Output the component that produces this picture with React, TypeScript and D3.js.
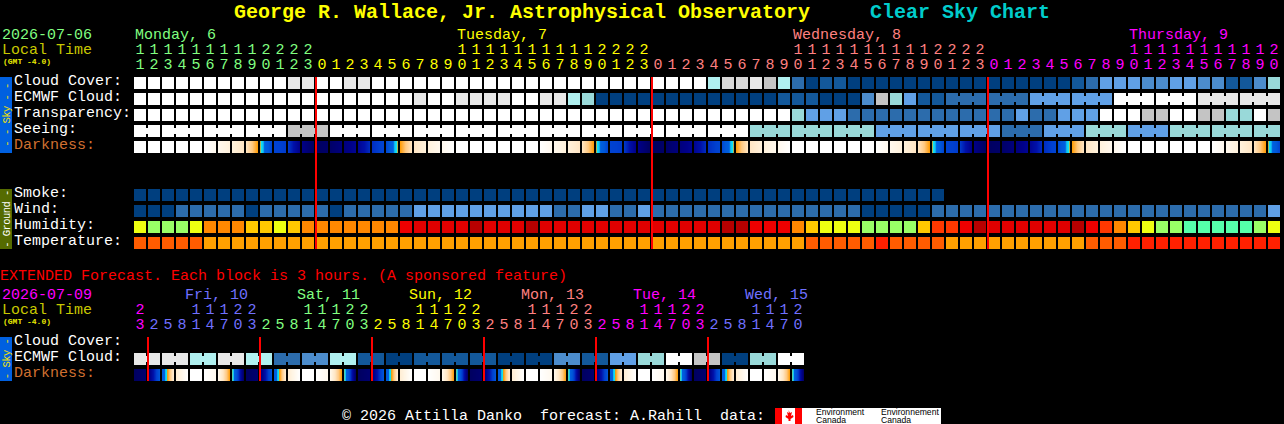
import React from "react";
import * as d3 from "d3";

const cloudCover = [10,10,10,10,10,10,10,10,10,10,10,9,9,10,10,9,9,10,10,10,10,10,10,10,10,10,10,10,10,10,10,10,10,10,10,10,10,10,10,10,10,6,8,8,9,7,6,2,0,1,1,0,0,0,0,0,0,0,0,0,0,0,0,0,0,0,0,1,2,4,4,4,3,3,4,4,3,3,1,1,3,5];
const ecmwfCloud = [10,10,10,10,10,10,10,10,10,10,10,10,10,10,10,10,10,10,10,10,9,10,10,9,9,9,9,10,10,9,9,6,5,0,0,0,0,0,0,0,0,0,0,0,0,0,1,1,1,0,0,0,3,7,5,4,1,1,2,2,2,2,2,2,4,4,4,4,4,4,10,10,10,10,10,10,9,9,9,9,9,9];
const transparency = [10,10,10,10,10,10,10,10,10,10,10,10,10,10,10,10,10,10,10,10,10,10,10,10,10,10,10,10,10,10,10,10,10,10,10,10,10,10,10,10,10,10,10,10,10,10,10,5,4,4,4,2,2,2,2,2,2,2,2,2,2,2,2,4,2,2,4,4,4,10,10,10,7,7,10,10,7,7,5,5,10,7];
const seeing = [10,10,10,10,10,10,10,10,10,10,10,7,7,7,10,10,10,10,10,10,10,10,10,10,10,10,10,10,10,10,10,10,10,10,10,10,10,10,10,10,10,10,10,10,5,5,5,5,5,5,5,5,5,4,4,4,4,4,4,4,4,4,2,2,2,4,4,4,5,5,5,4,4,4,5,5,5,5,5,5,5,5];
const smoke = [0,0,0,0,0,0,0,0,0,0,0,0,0,0,0,0,0,0,0,0,0,0,0,0,0,0,0,0,0,0,0,0,0,0,0,0,0,0,0,0,0,0,0,0,0,0,0,0,0,0,0,0,0,0,0,0,0,0];
const wind = [0,0,0,2,2,2,2,2,0,2,2,2,2,2,0,2,2,2,2,2,4,4,4,4,4,4,4,4,4,4,2,2,4,4,2,2,4,2,2,2,2,2,2,2,2,2,2,2,2,2,2,2,0,0,0,0,0,2,2,2,2,2,2,2,2,2,2,2,2,2,2,2,2,2,2,2,2,2,2,2,2,4];
const humidity = [2,1,1,1,2,4,4,4,3,3,2,3,4,4,4,4,4,4,4,6,7,7,7,7,8,7,7,7,8,7,7,7,7,7,7,7,7,7,7,7,7,7,8,8,6,6,6,4,3,2,2,2,1,1,1,1,3,5,5,6,8,7,7,7,7,7,7,8,6,5,4,3,2,1,1,0,0,0,0,0,1,2];
const temperature = [1,1,1,1,1,0,0,0,0,0,0,0,0,0,0,0,0,0,0,0,0,0,0,0,0,0,0,0,0,0,0,0,0,0,0,0,0,0,0,0,0,0,0,0,0,0,0,0,1,1,1,1,1,2,1,1,1,1,0,0,0,0,0,0,0,0,0,0,1,1,1,2,2,2,2,2,2,2,2,2,2,2];
const darkness = [0,0,0,0,0,0,0.6,1.2,2,3.9,6.9,7.1,9,10,9.8,9.3,8.7,7.4,6.8,3.9,2,1.2,0.6,0,0,0,0,0,0,0,0.6,1.2,2,3.9,6.9,7.1,9,10,9.8,9.3,8.7,7.4,6.8,3.9,2,1.2,0.6,0,0,0,0,0,0,0,0.6,1.2,2,3.9,6.9,7.1,9,10,9.8,9.3,8.7,7.4,6.8,3.9,2,1.2,0.6,0,0,0,0,0,0,0,0.6,1.2,2,3.9,6.9];
const extEcmwf = [9,9,9,9,6,6,9,9,6,6,2,2,3,3,6,6,1,1,0,0,1,1,1,1,1,1,0,0,0,0,3,3,1,1,4,4,5,5,10,10,7,7,0,0,5,5,10,10];
const extDarkness = [10,9.6,6,1.5,0,0,0.6,3.9,10,9.6,6,1.5,0,0,0.6,3.9,10,9.6,6,1.5,0,0,0.6,3.9,10,9.6,6,1.5,0,0,0.6,3.9,10,9.6,6,1.5,0,0,0.6,3.9,10,9.6,6,1.5,0,0,0.6,3.9,10];

const mainHours = [11,12,13,14,15,16,17,18,19,20,21,22,23,0,1,2,3,4,5,6,7,8,9,10,11,12,13,14,15,16,17,18,19,20,21,22,23,0,1,2,3,4,5,6,7,8,9,10,11,12,13,14,15,16,17,18,19,20,21,22,23,0,1,2,3,4,5,6,7,8,9,10,11,12,13,14,15,16,17,18,19,20];
const mainHourDay = [0,0,0,0,0,0,0,0,0,0,0,0,0,1,1,1,1,1,1,1,1,1,1,1,1,1,1,1,1,1,1,1,1,1,1,1,1,2,2,2,2,2,2,2,2,2,2,2,2,2,2,2,2,2,2,2,2,2,2,2,2,3,3,3,3,3,3,3,3,3,3,3,3,3,3,3,3,3,3,3,3,3];
const mainDays = ["Monday, 6","Tuesday, 7","Wednesday, 8","Thursday, 9"];
const mainDayCols = [0,23,47,71];
const mainMidnights = [13,37,61];
const extHours = [23,2,5,8,11,14,17,20,23,2,5,8,11,14,17,20,23,2,5,8,11,14,17,20,23,2,5,8,11,14,17,20,23,2,5,8,11,14,17,20,23,2,5,8,11,14,17,20];
const extHourDay = [0,1,1,1,1,1,1,1,1,2,2,2,2,2,2,2,2,3,3,3,3,3,3,3,3,4,4,4,4,4,4,4,4,5,5,5,5,5,5,5,5,6,6,6,6,6,6,6];
const extDays = ["Fri, 10","Sat, 11","Sun, 12","Mon, 13","Tue, 14","Wed, 15"];
const extDayCols = [3.64,11.64,19.64,27.64,35.64,43.64];
const extMidnights = [1,9,17,25,33,41];

const mainDayColors = ["#80ff80","#ffff00","#ff8080","#ff00ff"];
const extDayColors = ["#ff00ff","#7070ff","#80ff80","#ffff00","#ff8080","#ff00ff","#7070ff"];
const cloudColors = ["#003f7f","#13589a","#2c6cac","#4c8ccc","#60a0e6","#99d9d9","#b0f0f0","#c4c4c4","#d8d8d8","#e8e8e8","#ffffff"];
const humidityColors = ["#55ffaa","#99ff66","#eeff11","#ffc800","#ff8800","#ff3800","#ee0000","#e00000","#b80000"];
const temperatureColors = ["#ffa000","#ff5c00","#ff2000"];

const cloudScale = d3.scaleOrdinal<number, string>().domain(d3.range(cloudColors.length)).range(cloudColors);
const humidityScale = d3.scaleOrdinal<number, string>().domain(d3.range(humidityColors.length)).range(humidityColors);
const temperatureScale = d3.scaleOrdinal<number, string>().domain(d3.range(temperatureColors.length)).range(temperatureColors);
const darkScale = d3.scaleLinear<string>()
  .domain([0,1,2,3,3.9,4.25,4.7,5.05,6,7,8,9,10])
  .range(["#ffffff","#fff4e2","#ffe6c4","#ffc880","#ff9a00","#10e4f4","#10c0f0","#0060e0","#0058d8","#0040d0","#0010a8","#000088","#000060"])
  .interpolate(d3.interpolateRgb)
  .clamp(true);

const CELL = 12;
const STEP = 14;
const x = d3.scaleLinear().domain([0, 1]).range([134, 134 + STEP]);
const yMain = d3.scaleLinear().domain([0, 1]).range([77, 93]);
const yGround = d3.scaleLinear().domain([0, 1]).range([189, 205]);
const yExt = d3.scaleLinear().domain([0, 1]).range([337, 353]);

const MONO = "'Liberation Mono', monospace";

function Label({ px, py, fill, size = 15, bold, anchor, children }: any) {
  return (
    <text x={px} y={py} fill={fill} fontSize={size} fontFamily={MONO} fontWeight={bold ? 700 : 400} textAnchor={anchor ?? "start"} style={{ whiteSpace: "pre" }}>
      {children}
    </text>
  );
}

function Row({ values, y, scale, group }: { values: number[]; y: number; scale: (v: number) => string; group: (k: number) => number | null }) {
  return (
    <g>
      {values.map((v, k) => (
        <rect key={k} x={x(k)} y={y} width={CELL} height={CELL} fill={scale(v)} />
      ))}
      {values.slice(0, -1).map((v, k) =>
        group(k) !== null && group(k) === group(k + 1) ? (
          <rect key={"b" + k} x={x(k) + CELL} y={y + 3} width={STEP - CELL} height={6} fill={scale(v)} />
        ) : null
      )}
    </g>
  );
}

function DarkRow({ values, y }: { values: number[]; y: number }) {
  return (
    <g>
      {values.slice(0, -1).map((v, k) => (
        <g key={k}>
          {d3.range(CELL).map((p) => (
            <rect key={p} x={x(k) + p} y={y} width={1} height={CELL} fill={darkScale(v + ((values[k + 1] - v) * (p + 0.5)) / CELL)} />
          ))}
        </g>
      ))}
    </g>
  );
}

function SideBar({ y, h, fill, color, text }: any) {
  const cy = y + h / 2;
  return (
    <g>
      <rect x={0} y={y} width={12} height={h} fill={fill} />
      <text transform={`translate(9.5,${cy}) rotate(-90)`} fontSize={10.5} letterSpacing={-0.55} fontFamily={MONO} fill={color} textAnchor="middle">
        {text}
      </text>
    </g>
  );
}

function Header({ date, dateColor, baseY }: any) {
  return (
    <g>
      <Label px={2} py={baseY} fill={dateColor}>{date}</Label>
      <Label px={2} py={baseY + 15} fill="#c8c800">Local Time</Label>
      <Label px={3} py={baseY + 25} fill="#e8e800" size={8} bold>(GMT -4.0)</Label>
    </g>
  );
}

export default function App() {
  const seeingGroup = (k: number) => Math.floor((k + 1) / 3);
  const ecmwfGroup = (k: number) => (k >= 58 ? Math.floor((k - 58) / 3) : null);
  const extGroup = (k: number) => Math.floor(k / 2);
  const none = () => null;
  return (
    <svg width={1284} height={424} viewBox="0 0 1284 424" style={{ position: "absolute", left: 0, top: 0, display: "block", background: "#000" }} shapeRendering="crispEdges">
      <rect width={1284} height={424} fill="#000" />
      <Label px={234} py={18} fill="#ffff00" size={20} bold>George R. Wallace, Jr. Astrophysical Observatory</Label>
      <Label px={870} py={18} fill="#00cccc" size={20} bold>Clear Sky Chart</Label>

      <Header date="2026-07-06" dateColor="#80ff80" baseY={39} />
      {mainDays.map((d, i) => (
        <Label key={d} px={x(mainDayCols[i]) + 1} py={39} fill={mainDayColors[i]}>{d}</Label>
      ))}
      {mainHours.map((h, k) => (
        <g key={k}>
          {h >= 10 && <Label px={x(k) + 6} py={54} fill={mainDayColors[mainHourDay[k]]} anchor="middle">{Math.floor(h / 10)}</Label>}
          <Label px={x(k) + 6} py={69} fill={mainDayColors[mainHourDay[k]]} anchor="middle">{h % 10}</Label>
        </g>
      ))}

      {["Cloud Cover:", "ECMWF Cloud:", "Transparency:", "Seeing:", "Darkness:"].map((t, i) => (
        <Label key={t} px={14} py={yMain(i) + 8} fill={i === 4 ? "#d07030" : "#ffffff"}>{t}</Label>
      ))}
      {["Smoke:", "Wind:", "Humidity:", "Temperature:"].map((t, i) => (
        <Label key={t} px={14} py={yGround(i) + 8} fill="#ffffff">{t}</Label>
      ))}

      <SideBar y={77} h={76} fill="#0060e0" color="#f0e000" text="- - Sky - -" />
      <SideBar y={189} h={60} fill="#556b00" color="#ffffff" text="- Ground -" />

      <Row values={cloudCover} y={yMain(0)} scale={cloudScale} group={none} />
      <Row values={ecmwfCloud} y={yMain(1)} scale={cloudScale} group={ecmwfGroup} />
      <Row values={transparency} y={yMain(2)} scale={cloudScale} group={none} />
      <Row values={seeing} y={yMain(3)} scale={cloudScale} group={seeingGroup} />
      <DarkRow values={darkness} y={yMain(4)} />

      <Row values={smoke} y={yGround(0)} scale={cloudScale} group={none} />
      <Row values={wind} y={yGround(1)} scale={cloudScale} group={none} />
      <Row values={humidity} y={yGround(2)} scale={humidityScale} group={none} />
      <Row values={temperature} y={yGround(3)} scale={temperatureScale} group={none} />

      {mainMidnights.map((k) => (
        <rect key={k} x={x(k) - 1} y={77} width={2} height={172} fill="#ff0000" />
      ))}

      <Label px={0} py={280} fill="#ff0000">EXTENDED Forecast. Each block is 3 hours. (A sponsored feature)</Label>

      <Header date="2026-07-09" dateColor="#ff00ff" baseY={299} />
      {extDays.map((d, i) => (
        <Label key={d} px={x(extDayCols[i])} py={299} fill={extDayColors[i + 1]}>{d}</Label>
      ))}
      {extHours.map((h, k) => (
        <g key={k}>
          {h >= 10 && <Label px={x(k) + 6} py={314} fill={extDayColors[extHourDay[k]]} anchor="middle">{Math.floor(h / 10)}</Label>}
          <Label px={x(k) + 6} py={329} fill={extDayColors[extHourDay[k]]} anchor="middle">{h % 10}</Label>
        </g>
      ))}
      {["Cloud Cover:", "ECMWF Cloud:", "Darkness:"].map((t, i) => (
        <Label key={t} px={14} py={yExt(i) + 8} fill={i === 2 ? "#d07030" : "#ffffff"}>{t}</Label>
      ))}
      <SideBar y={337} h={44} fill="#0060e0" color="#f0e000" text="- Sky -" />
      <Row values={extEcmwf} y={yExt(1)} scale={cloudScale} group={extGroup} />
      <DarkRow values={extDarkness} y={yExt(2)} />
      {extMidnights.map((k) => (
        <rect key={k} x={x(k) - 1} y={337} width={2} height={44} fill="#ff0000" />
      ))}

      <Label px={342} py={420} fill="#ffffff">© 2026 Attilla Danko  forecast: A.Rahill  data:</Label>
      <rect x={775} y={408} width={166} height={16} fill="#ffffff" />
      <rect x={775} y={408} width={7} height={16} fill="#ff0000" />
      <rect x={795} y={408} width={7} height={16} fill="#ff0000" />
      <path d="M788.5 410 l1.5 3 2-1 -1 4 2-1 0.5 2 -3 2 0 2 -2 0 0-2 -3-2 0.5-2 2 1 -1-4 2 1z" fill="#ff0000" shapeRendering="auto" />
      <text x={816} y={415} fontSize={8.6} fontFamily="'Liberation Sans', sans-serif" fill="#000">Environment</text>
      <text x={816} y={423} fontSize={8.6} fontFamily="'Liberation Sans', sans-serif" fill="#000">Canada</text>
      <text x={881} y={415} fontSize={8.6} fontFamily="'Liberation Sans', sans-serif" fill="#000">Environnement</text>
      <text x={881} y={423} fontSize={8.6} fontFamily="'Liberation Sans', sans-serif" fill="#000">Canada</text>
    </svg>
  );
}
